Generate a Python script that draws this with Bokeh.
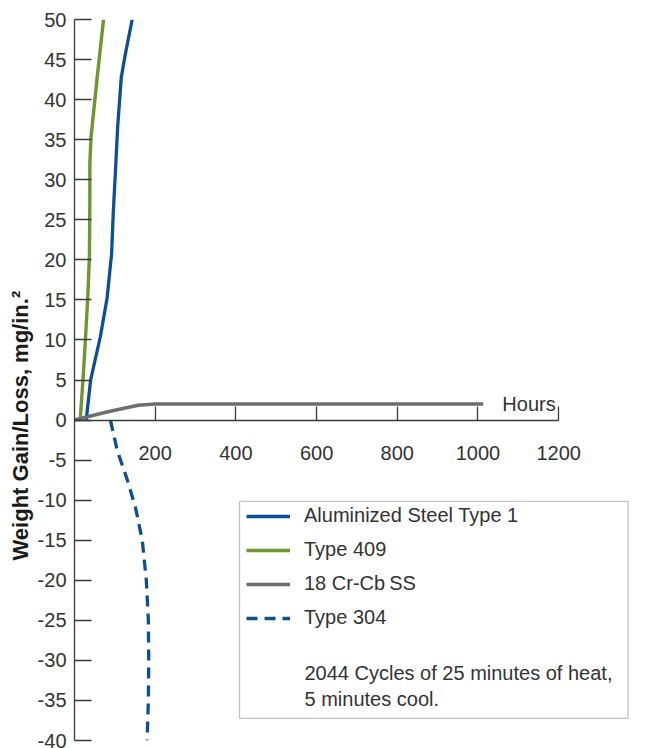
from bokeh.plotting import figure
from bokeh.models import Range1d, FixedTicker, Legend, LegendItem, BoxAnnotation, Label, Title
from bokeh.embed import file_html
from bokeh.resources import INLINE

# ---- data ----
alum_x = [29, 40, 64, 81, 92, 96, 102, 107, 116, 126, 143]
alum_y = [0, 5, 10.4, 15.3, 20.8, 25.8, 31.6, 36.6, 42.8, 45.7, 50]

t409_x = [14, 21, 27, 33, 37, 38, 38, 41, 56, 72]
t409_y = [0, 5, 10, 15.5, 20.5, 27, 32, 35.3, 42.7, 50]

crcb_x = [0, 40, 80, 120, 158, 200, 1013]
crcb_y = [0, 0.5, 1.0, 1.45, 1.85, 2.0, 2.0]

t304_x = [89, 106, 131, 151, 168, 178, 183, 184, 183, 180]
t304_y = [0, -3.8, -7.5, -10.9, -15, -20, -25, -30, -35, -40]

x_ticks = [200, 400, 600, 800, 1000, 1200]
y_ticks = list(range(-40, 55, 5))

series_names = ["Aluminized Steel Type 1", "Type 409", "18 Cr-Cb\u2009SS", "Type 304"]
note_lines = ["2044 Cycles of 25 minutes of heat,", "5 minutes cool."]
y_title = "Weight Gain/Loss, mg/in.\u00b2"
x_title = "Hours"

# ---- styles ----
BLUE = "#0d4f93"
GREEN = "#6f962f"
GRAY = "#6d6e71"
TXT = "#333333"
AX = "#3a3a3a"
FONT = "Liberation Sans"

p = figure(width=651, height=748,
           x_range=Range1d(0, 1430), y_range=Range1d(-40, 50),
           output_backend="svg", toolbar_location=None,
           min_border_left=74, min_border_right=0,
           min_border_top=19, min_border_bottom=8)
p.xgrid.visible = False
p.ygrid.visible = False
p.outline_line_color = None

# x axis at y = 0
xa = p.xaxis[0]
xa.fixed_location = 0
xa.bounds = (0, 1200)
xa.ticker = FixedTicker(ticks=x_ticks)
xa.minor_tick_line_color = None
xa.major_tick_in = 14
xa.major_tick_out = 0
xa.major_label_standoff = 26
xa.axis_line_color = AX
xa.axis_line_width = 1.3
xa.major_tick_line_color = AX
xa.major_tick_line_width = 1.3
xa.major_label_text_font = FONT
xa.major_label_text_font_size = "20px"
xa.major_label_text_color = TXT

ya = p.yaxis[0]
ya.ticker = FixedTicker(ticks=y_ticks)
ya.major_label_overrides = {v: str(v) for v in y_ticks}
ya.minor_tick_line_color = None
ya.major_tick_in = 17
ya.major_tick_out = 0
ya.major_label_standoff = 8
ya.axis_line_color = AX
ya.axis_line_width = 1.3
ya.major_tick_line_color = AX
ya.major_tick_line_width = 1.3
ya.major_label_text_font = FONT
ya.major_label_text_font_size = "20px"
ya.major_label_text_color = TXT

# y-axis title as a side title (allows offset along the axis)
p.add_layout(Title(text=y_title, align="left", offset=180, standoff=4,
                   vertical_align="bottom", text_font=FONT, text_font_size="22px",
                   text_font_style="bold", text_color="#1a1a1a"), "left")

r_alum = p.line(alum_x, alum_y, line_color=BLUE, line_width=3.3)
r_409 = p.line(t409_x, t409_y, line_color=GREEN, line_width=3.4)
r_crcb = p.line(crcb_x, crcb_y, line_color=GRAY, line_width=3.6)
r_304 = p.line(t304_x, t304_y, line_color=BLUE, line_width=3.3, line_dash="11 7")

# legend frame
box = BoxAnnotation(left=409, right=1372, top=-10.16, bottom=-37.25,
                    fill_alpha=0, line_color=AX, line_width=1.3)
p.add_layout(box)

legend = Legend(items=[
    LegendItem(label=series_names[0], renderers=[r_alum]),
    LegendItem(label=series_names[1], renderers=[r_409]),
    LegendItem(label=series_names[2], renderers=[r_crcb]),
    LegendItem(label=series_names[3], renderers=[r_304]),
], location=(172, 111), padding=0, margin=0, spacing=11,
    glyph_width=44, glyph_height=20, label_height=20, label_standoff=14,
    label_text_font=FONT, label_text_font_size="20px", label_text_color=TXT,
    border_line_alpha=0, background_fill_alpha=0)
p.add_layout(legend)

for txt, yy in zip(note_lines, [-31.63, -34.88]):
    p.add_layout(Label(x=570, y=yy, text=txt, text_align="left", text_baseline="middle",
                       text_font=FONT, text_font_size="20px", text_color=TXT))

p.add_layout(Label(x=1200, y=1.95, x_offset=-3, text=x_title, text_align="right",
                   text_baseline="alphabetic", text_font=FONT, text_font_size="20px",
                   text_color=TXT))

open("out.html", "w").write(file_html(p, INLINE))
